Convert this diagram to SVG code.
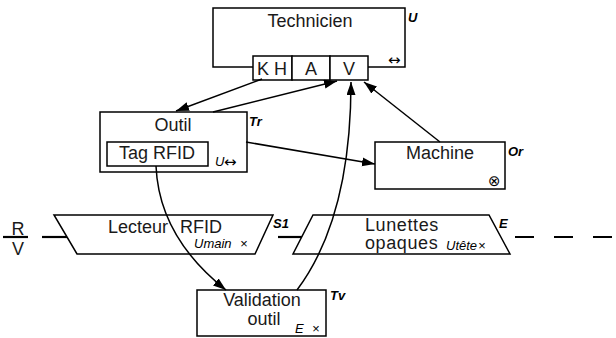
<svg xmlns="http://www.w3.org/2000/svg" width="616" height="338" viewBox="0 0 616 338">
<defs>
<style>
.box{fill:#fff;stroke:#000;stroke-width:1.5}
.t{font-family:"Liberation Sans",Arial,sans-serif;font-size:18px;fill:#1a1a1a}
.m{text-anchor:middle}
.tag{font-family:"Liberation Sans",Arial,sans-serif;font-size:13px;font-weight:bold;font-style:italic;fill:#000}
.it{font-family:"Liberation Sans",Arial,sans-serif;font-size:13px;font-style:italic;fill:#000}
.sym{font-family:"DejaVu Sans",sans-serif;font-size:15px;fill:#000}
.c{fill:none;stroke:#000;stroke-width:1.5}
.hl{fill:none;stroke:#000;stroke-width:2.2}
</style>
<marker id="ah" markerUnits="userSpaceOnUse" markerWidth="14" markerHeight="10" refX="13" refY="4.5" orient="auto">
<path d="M0,0 L13,4.5 L0,9 z" fill="#000"/>
</marker>
</defs>
<rect width="616" height="338" fill="#fff"/>

<g id="separator">
<line class="hl" x1="3" y1="237" x2="28" y2="237"/>
<text class="t m" x="18" y="235">R</text>
<text class="t m" x="18" y="255">V</text>
<line class="hl" x1="42" y1="237" x2="67" y2="237"/>
<line class="hl" x1="278" y1="237" x2="302" y2="237"/>
<line class="hl" x1="515" y1="237" x2="616" y2="237" stroke-dasharray="19 20"/>
</g>

<g id="technicien">
<rect class="box" x="213" y="8" width="192" height="59"/>
<text class="t m" x="310" y="27">Technicien</text>
<rect class="box" x="253" y="56" width="39" height="24"/>
<rect class="box" x="292" y="56" width="38" height="24"/>
<rect class="box" x="330" y="56" width="38" height="24"/>
<text class="t m" x="272" y="75">K H</text>
<text class="t m" x="311" y="75">A</text>
<text class="t m" x="349" y="75">V</text>
<text class="tag" x="408" y="22">U</text>
<text class="sym" x="388" y="65">↔</text>
</g>

<g id="outil">
<rect class="box" x="100" y="112" width="147" height="60"/>
<text class="t m" x="173" y="131">Outil</text>
<rect class="box" x="107" y="142" width="101" height="24"/>
<text class="t m" x="157" y="159">Tag RFID</text>
<text class="it" x="215" y="166">U</text>
<text class="sym" x="224" y="167">↔</text>
<text class="tag" x="249" y="126">Tr</text>
</g>

<g id="machine">
<rect class="box" x="375" y="142" width="130" height="47"/>
<text class="t m" x="440" y="159">Machine</text>
<text class="sym" x="488" y="186" font-size="13">⊗</text>
<text class="tag" x="508" y="156">Or</text>
</g>

<g id="lecteur">
<polygon class="box" points="54,215 273,215 255,254 77,254"/>
<text class="t" x="108" y="233">Lecteur<tspan dx="12">RFID</tspan></text>
<text class="it" x="194" y="248">Umain</text>
<text class="it" x="240" y="248" font-size="11">×</text>
<text class="tag" x="273" y="228">S1</text>
</g>

<g id="lunettes">
<polygon class="box" points="313,215 489,215 510,254 293,254"/>
<text class="t" font-size="16.5" letter-spacing="0.6"><tspan x="365" y="230.5">Lunettes</tspan><tspan x="365" y="249.2">opaques</tspan></text>
<text class="it" x="446" y="250">Utête</text>
<text class="it" x="478" y="250" font-size="11">×</text>
<text class="tag" x="499" y="228">E</text>
</g>

<g id="validation">
<rect class="box" x="197" y="290" width="129" height="46"/>
<text class="t m"><tspan x="262" y="306">Validation</tspan><tspan x="264" y="325">outil</tspan></text>
<text class="it" x="295" y="333">E</text>
<text class="it" x="312" y="333" font-size="11">×</text>
<text class="tag" x="330" y="300">Tv</text>
</g>

<g id="connectors">
<line class="c" x1="262" y1="79" x2="176" y2="111" marker-end="url(#ah)"/>
<line class="c" x1="213" y1="112" x2="337" y2="81" marker-end="url(#ah)"/>
<line class="c" x1="440" y1="142" x2="364" y2="82" marker-end="url(#ah)"/>
<line class="c" x1="246" y1="142" x2="375" y2="164" marker-end="url(#ah)"/>
<path class="c" d="M297,290 Q351,218 351,82" marker-end="url(#ah)"/>
<path class="c" d="M156,166 Q159,237 226,290" marker-end="url(#ah)"/>
</g>
</svg>
